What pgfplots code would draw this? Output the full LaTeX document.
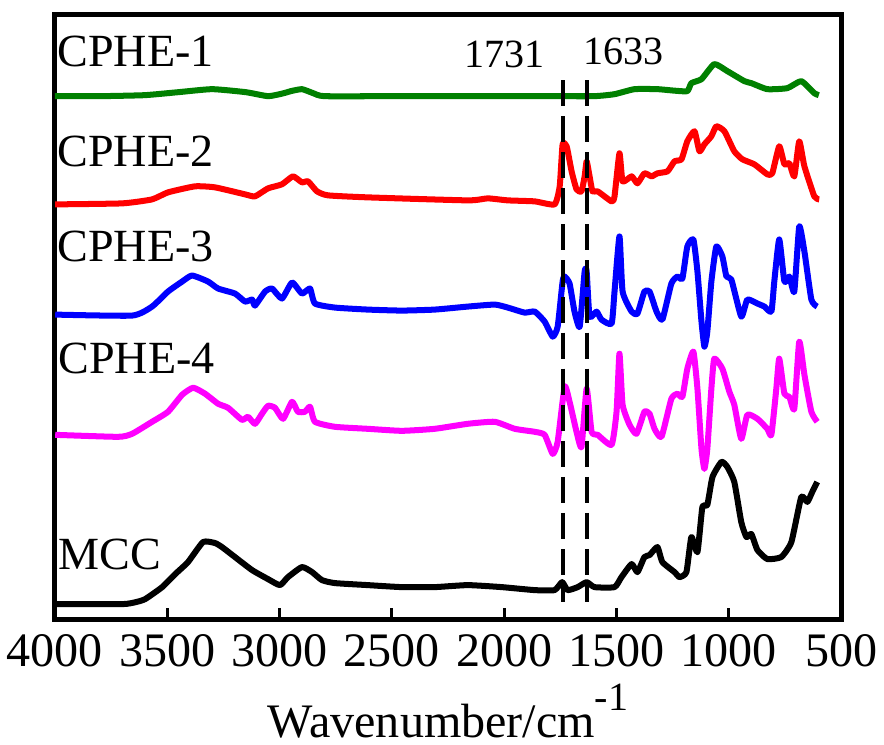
\documentclass[border=0pt]{standalone}
\usepackage{pgfplots}
\pgfplotsset{compat=1.18}
\usepackage{fontspec}
\setmainfont{Liberation Serif}
\definecolor{cgreen}{RGB}{0,128,0}
\definecolor{cmag}{RGB}{255,0,255}
\begin{document}
\begin{tikzpicture}
\begin{axis}[
  width=392.5pt, height=302pt, scale only axis,
  x dir=reverse, xmin=500, xmax=4000,
  y dir=reverse, ymin=13, ymax=617,
  axis line style={line width=2.5pt},
  xtick={500,1000,...,4000},
  xtick pos=bottom, ytick=\empty,
  tick align=inside,
  major tick length=5.5pt,
  tick style={line width=1.5pt, black},
  /pgf/number format/assume math mode=true,
  /pgf/number format/1000 sep={},
  xticklabel style={font=\fontsize{24}{24}\selectfont, yshift=-4pt},
  xlabel={Wavenumber/cm\raisebox{0.55em}{\fontsize{20}{20}\selectfont -1}},
  xlabel style={font=\fontsize{24}{24}\selectfont, yshift=-2pt},
  every axis plot/.append style={line width=3pt, line join=round, no markers, smooth, tension=0.3},
  clip=false,
]
% CPHE-1
\addplot[cgreen] coordinates {
(4000,95) (3800,95) (3600,94) (3450,91) (3300,88) (3150,91) (3050,95) (2980,92)
(2950,90) (2900,88) (2850,92) (2800,95) (2500,95) (2000,95) (1800,95) (1600,95)
(1509,93) (1420,88) (1318,88) (1242,89.5) (1185,90) (1167,82) (1122,78) (1065,63)
(1007,70) (931,80) (900,82) (829,88) (740,87) (678,80) (620,92) (600,94)
};
% CPHE-2
\addplot[red] coordinates {
(3998,203) (3700,202) (3567,198) (3496,191) (3376,185) (3287,186) (3153,193) (3109,195)
(3051,187) (2989,183) (2940,175) (2900,181) (2873,180) (2833,190) (2784,194) (2607,196)
(2162,199) (2073,197) (1984,199) (1864,200) (1776,203) (1753,185) (1740,143) (1722,145)
(1700,170) (1678,188) (1656,190) (1642,175) (1633,160) (1620,175) (1607,190) (1584,190)
(1522,200) (1509,195) (1487,152) (1473,180) (1433,175) (1407,182) (1376,172) (1344,175)
(1318,172) (1273,170) (1242,160) (1211,158) (1185,140) (1153,130) (1131,150) (1109,143)
(1078,135) (1056,125) (1020,130) (976,150) (940,158) (887,163) (829,173) (807,172)
(776,145) (753,163) (731,162) (709,175) (687,140) (664,165) (620,195) (598,198)
};
% CPHE-3
\addplot[blue] coordinates {
(3998,313) (3656,314) (3567,305) (3496,290) (3433,280) (3389,274) (3318,280) (3273,287)
(3198,292) (3153,300) (3122,298) (3109,304) (3064,290) (3033,287) (2989,297) (2944,281)
(2900,292) (2864,287) (2842,302) (2753,306) (2607,308) (2456,309) (2309,308) (2162,305)
(2042,303) (1984,306) (1909,311) (1864,310) (1820,320) (1784,335) (1762,325) (1740,280)
(1731,275) (1709,282) (1687,310) (1664,325) (1642,270) (1633,270) (1620,315) (1589,310)
(1567,318) (1522,322) (1509,290) (1487,235) (1473,290) (1433,310) (1407,312) (1376,290)
(1353,290) (1322,310) (1296,318) (1256,282) (1229,275) (1207,277) (1185,245) (1158,238)
(1140,270) (1122,320) (1109,345) (1096,330) (1078,280) (1056,245) (1029,255) (1011,275)
(989,278) (945,315) (918,298) (873,302) (842,305) (811,310) (798,280) (776,238)
(753,280) (731,275) (709,290) (687,225) (664,250) (633,298) (607,305)
};
% CPHE-4
\addplot[cmag] coordinates {
(3998,433) (3718,435) (3656,432) (3567,420) (3496,410) (3433,393) (3384,386) (3331,392)
(3273,402) (3229,406) (3167,418) (3140,415) (3109,422) (3078,412) (3051,404) (3020,406)
(2984,417) (2944,400) (2918,410) (2887,410) (2864,405) (2842,420) (2753,425) (2607,427)
(2456,429) (2309,427) (2162,422) (2042,420) (1953,427) (1864,430) (1820,433) (1784,452)
(1762,440) (1731,385) (1709,400) (1678,430) (1656,445) (1633,387) (1611,430) (1584,433)
(1522,443) (1500,410) (1487,352) (1473,403) (1442,423) (1411,432) (1376,410) (1353,412)
(1331,427) (1300,435) (1256,397) (1229,392) (1207,395) (1185,367) (1158,350) (1140,387)
(1122,447) (1109,467) (1096,447) (1078,387) (1065,357) (1029,367) (998,390) (976,403)
(945,437) (918,413) (873,417) (829,427) (811,433) (789,387) (776,357) (753,392)
(731,395) (709,407) (687,340) (664,373) (633,410) (607,420)
};
% MCC
\addplot[black] coordinates {
(3998,602) (3700,602) (3640,600) (3598,597) (3522,585) (3464,572) (3407,560) (3340,540) (3287,541)
(3256,545) (3198,555) (3122,568) (3051,577) (2998,583) (2962,575) (2900,565) (2855,570)
(2811,578) (2753,581) (2607,583) (2456,585) (2309,585) (2162,583) (2011,585) (1864,588)
(1776,588) (1742,580) (1718,588) (1673,585) (1633,580) (1598,585) (1509,585) (1478,575)
(1433,562) (1407,570) (1376,555) (1353,553) (1318,545) (1296,560) (1242,570) (1220,575)
(1189,570) (1167,535) (1140,550) (1118,505) (1096,503) (1073,475) (1033,460) (1007,465)
(976,480) (945,520) (922,535) (900,532) (873,548) (829,557) (767,555) (722,540)
(678,495) (651,500) (629,490) (607,480)
};
% marker lines
\addplot[black, line width=2pt, dash pattern=on 13pt off 5pt, line cap=butt, sharp plot] coordinates {(1738,79) (1738,600)};
\addplot[black, line width=2pt, dash pattern=on 13pt off 5pt, line cap=butt, sharp plot] coordinates {(1630,79) (1630,600)};
\node[anchor=west, font=\fontsize{23}{23}\selectfont, inner sep=0pt] at (axis cs:3990,50) {CPHE-1};
\node[anchor=west, font=\fontsize{23}{23}\selectfont, inner sep=0pt] at (axis cs:3990,150) {CPHE-2};
\node[anchor=west, font=\fontsize{23}{23}\selectfont, inner sep=0pt] at (axis cs:3990,245) {CPHE-3};
\node[anchor=west, font=\fontsize{23}{23}\selectfont, inner sep=0pt] at (axis cs:3985,357) {CPHE-4};
\node[anchor=west, font=\fontsize{23}{23}\selectfont, inner sep=0pt] at (axis cs:3985,552) {MCC};
\node[font=\fontsize{20}{20}\selectfont] at (axis cs:1998,53) {1731};
\node[font=\fontsize{20}{20}\selectfont] at (axis cs:1470,50) {1633};
\end{axis}
\path (current axis.north) -- ++(0,7pt);
\end{tikzpicture}
\end{document}
